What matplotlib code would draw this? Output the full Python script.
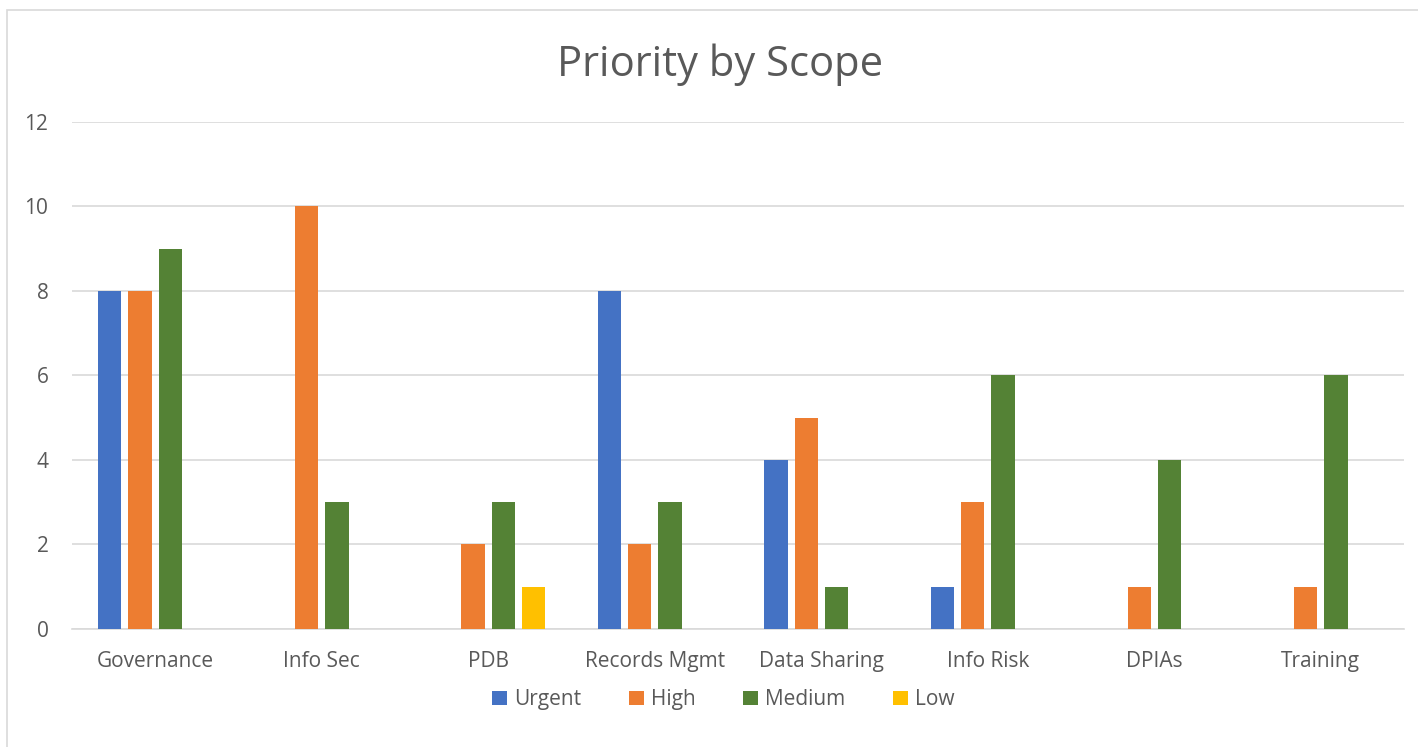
import matplotlib
matplotlib.use("Agg")
import matplotlib.pyplot as plt
import numpy as np
from matplotlib.patches import Rectangle

plt.rcParams['font.family'] = ['Open Sans', 'DejaVu Sans']

# data
scopes = ["Governance", "Info Sec", "PDB", "Records Mgmt", "Data Sharing",
          "Info Risk", "DPIAs", "Training"]
urgent = [8, 0, 0, 8, 4, 1, 0, 0]
high = [8, 10, 2, 2, 5, 3, 1, 1]
medium = [9, 3, 3, 3, 1, 6, 4, 6]
low = [0, 0, 1, 0, 0, 0, 0, 0]

series = [("Urgent", urgent, "#4472C4"),
          ("High", high, "#ED7D31"),
          ("Medium", medium, "#548235"),
          ("Low", low, "#FFC000")]

text_col = "#595959"

fig = plt.figure(figsize=(14.18, 7.47), dpi=100)
ax = fig.add_axes([0.0508, 0.158, 0.9394, 0.6787])

x = np.arange(len(scopes))
step = 0.182
width = 0.14
for i, (name, vals, col) in enumerate(series):
    ax.bar(x + (i - 1.5) * step, vals, width=width, color=col, label=name,
           linewidth=0, zorder=3)

ax.set_xlim(-0.5, len(scopes) - 0.5)
ax.set_ylim(0, 12)
ax.set_yticks(range(0, 13, 2))
ax.set_xticks(x)
ax.set_xticklabels(scopes)
ax.grid(axis="y", color="#D9D9D9", linewidth=1.2, zorder=0)
for s in ["top", "right", "left"]:
    ax.spines[s].set_visible(False)
ax.spines["bottom"].set_color("#D9D9D9")
ax.spines["bottom"].set_linewidth(1.2)
ax.tick_params(axis="both", length=0, labelsize=15, colors=text_col)
ax.tick_params(axis="y", pad=17)
ax.tick_params(axis="x", pad=16)

fig.text(0.508, 0.913, "Priority by Scope", ha="center", va="center",
         fontsize=30, color=text_col)

leg = ax.legend(loc="center", bbox_to_anchor=(0.489, -0.14), ncol=4,
                frameon=False, fontsize=15, handlelength=0.7,
                handleheight=0.7, handletextpad=0.35, columnspacing=2.3)
for t in leg.get_texts():
    t.set_color(text_col)

# chart area border
fig.patches.append(Rectangle((7 / 1418, -0.1), 1.2, 1 - 10 / 747 + 0.1,
                             transform=fig.transFigure, fill=False,
                             edgecolor="#D9D9D9", linewidth=1.2))

fig.savefig("out.png", dpi=100)
